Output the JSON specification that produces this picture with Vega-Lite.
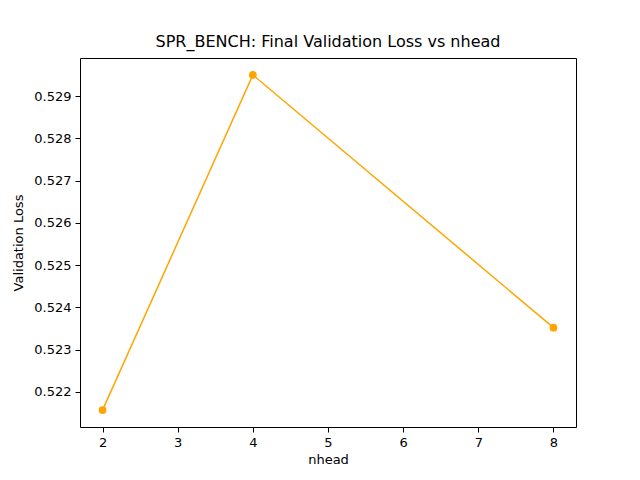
{
  "$schema": "https://vega.github.io/schema/vega-lite/v6.json",
  "width": 496,
  "height": 369,
  "autosize": {"type": "none"},
  "padding": {"left": 80, "top": 58, "right": 64, "bottom": 53},
  "background": "white",
  "config": {
    "font": "DejaVu Sans",
    "view": {"stroke": "black", "strokeWidth": 1},
    "axis": {"grid": false, "domain": false, "tickColor": "black", "tickSize": 5, "labelColor": "black", "labelFontSize": 13, "titleFontSize": 13, "titleFontWeight": "normal", "titleColor": "black", "labelPadding": 4}
  },
  "title": {"text": "SPR_BENCH: Final Validation Loss vs nhead", "fontSize": 16, "fontWeight": "normal", "offset": 8},
  "data": {"values": [
    {"nhead": 2, "loss": 0.52157},
    {"nhead": 4, "loss": 0.52950},
    {"nhead": 8, "loss": 0.52352}
  ]},
  "encoding": {
    "x": {"field": "nhead", "type": "quantitative", "scale": {"domain": [1.7, 8.3], "nice": false, "zero": false}, "axis": {"values": [2, 3, 4, 5, 6, 7, 8], "title": "nhead", "format": "d", "titlePadding": 4}},
    "y": {"field": "loss", "type": "quantitative", "scale": {"domain": [0.52117, 0.5299], "nice": false, "zero": false}, "axis": {"values": [0.522, 0.523, 0.524, 0.525, 0.526, 0.527, 0.528, 0.529], "format": ".3f", "title": "Validation Loss", "titlePadding": 8}}
  },
  "layer": [
    {"mark": {"type": "line", "color": "orange", "strokeWidth": 1.5}},
    {"mark": {"type": "point", "filled": true, "color": "orange", "size": 60, "opacity": 1}}
  ]
}
